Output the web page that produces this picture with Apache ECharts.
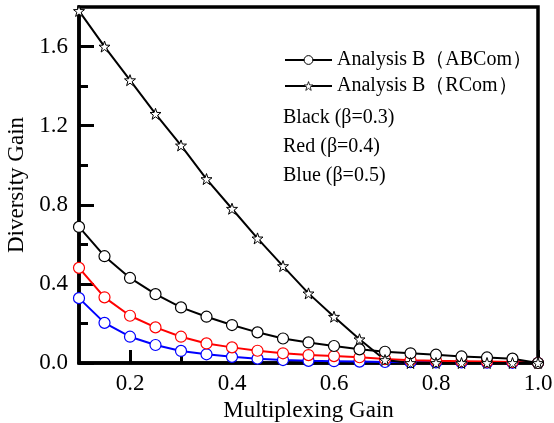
<!DOCTYPE html>
<html>
<head>
<meta charset="utf-8">
<script src="https://cdn.jsdelivr.net/npm/echarts@6/dist/echarts.min.js"></script>
<style>
  html, body { margin: 0; padding: 0; background: #fff; }
  #main { width: 554px; height: 423px; }
</style>
</head>
<body>
<div id="main"></div>
<script>
// multiplexing gain (x)
var xs = [0.1, 0.15, 0.2, 0.25, 0.3, 0.35, 0.4, 0.45, 0.5, 0.55, 0.6, 0.65, 0.7, 0.75, 0.8, 0.85, 0.9, 0.95, 1.0];
// Analysis B (RCom), beta = 0.3
var rcomBlack = [1.78, 1.60, 1.43, 1.26, 1.10, 0.93, 0.78, 0.63, 0.49, 0.352, 0.234, 0.12, 0.015, 0, 0, 0, 0, 0, 0];
// Analysis B (ABCom)
var abBlack = [0.688, 0.54, 0.43, 0.348, 0.281, 0.234, 0.192, 0.155, 0.124, 0.104, 0.086, 0.069, 0.057, 0.049, 0.042, 0.033, 0.028, 0.022, 0.0];
var abRed = [0.481, 0.332, 0.239, 0.18, 0.133, 0.099, 0.079, 0.062, 0.049, 0.040, 0.035, 0.029, 0.020, 0.014, 0.011, 0.009, 0.007, 0.005, 0.0];
var abBlue = [0.328, 0.203, 0.133, 0.091, 0.061, 0.044, 0.031, 0.022, 0.015, 0.011, 0.009, 0.007, 0.005, 0.004, 0.003, 0.003, 0.002, 0.001, 0.0];
// tick labels
var xLabels = [0.2, 0.4, 0.6, 0.8, 1.0];
var xMinor = [0.3, 0.5, 0.7, 0.9];
var yLabels = [0, 0.4, 0.8, 1.2, 1.6];
var yMinor = [0.2, 0.6, 1.0, 1.4];
var noteLines = ['Black (β=0.3)', 'Red (β=0.4)', 'Blue (β=0.5)'];

var serif = 'Liberation Serif';
var star = 'path://M50,0L61.8,33.8L97.6,34.5L69,56.2L79.4,90.5L50,70L20.6,90.5L31,56.2L2.4,34.5L38.2,33.8Z';

function pairs(ys) {
    return xs.map(function (x, i) { return [x, ys[i]]; });
}

function abSeries(name, color, ys) {
    return {
        name: name,
        type: 'line',
        data: pairs(ys),
        symbol: 'circle',
        symbolSize: 11,
        showAllSymbol: true,
        lineStyle: { color: color, width: 2 },
        itemStyle: { color: '#fff', borderColor: color, borderWidth: 1.2 }
    };
}

var chart = echarts.init(document.getElementById('main'));
var option = {
    backgroundColor: '#fff',
    animation: false,
    grid: {
        left: 79, right: 16, top: 7, bottom: 60,
        outerBoundsMode: 'none',
        show: true,
        borderColor: '#000',
        borderWidth: 3.5
    },
    legend: {
        data: [
            { name: 'Analysis B（ABCom）', itemStyle: { color: '#fff', borderColor: '#000', borderWidth: 1 } },
            { name: 'Analysis B（RCom）', itemStyle: { color: '#fff', borderColor: '#000', borderWidth: 0.8 } }
        ],
        orient: 'vertical',
        left: 279,
        top: 45,
        itemWidth: 47,
        itemHeight: 11,
        itemGap: 6,
        textStyle: { fontFamily: serif, fontSize: 20, color: '#000' }
    },
    graphic: noteLines.map(function (t, i) {
        return {
            type: 'text',
            left: 283,
            top: 108 + i * 28.8,
            style: { text: t, fontFamily: serif, fontSize: 20, fill: '#000' }
        };
    }),
    xAxis: [{
        type: 'value',
        min: 0.1,
        max: 1.0,
        name: 'Multiplexing Gain',
        nameLocation: 'middle',
        nameGap: 31,
        nameTextStyle: { fontFamily: serif, fontSize: 23, color: '#000' },
        axisLine: { lineStyle: { color: '#000', width: 3.5 } },
        axisTick: { inside: true, length: 13, customValues: xLabels, lineStyle: { color: '#000', width: 3 } },
        axisLabel: {
            customValues: xLabels,
            margin: 9,
            fontFamily: serif, fontSize: 23, color: '#000',
            formatter: function (v) { return v.toFixed(1); }
        },
        splitLine: { show: false }
    }, {
        type: 'value',
        min: 0.1,
        max: 1.0,
        position: 'bottom',
        axisLine: { show: false },
        axisTick: { inside: true, length: 9, customValues: xMinor, lineStyle: { color: '#000', width: 3 } },
        axisLabel: { show: false },
        splitLine: { show: false }
    }],
    yAxis: [{
        type: 'value',
        min: 0,
        max: 1.8,
        name: 'Diversity Gain',
        nameLocation: 'middle',
        nameGap: 43,
        nameTextStyle: { fontFamily: serif, fontSize: 23, color: '#000' },
        axisLine: { lineStyle: { color: '#000', width: 3.5 } },
        axisTick: { inside: true, length: 15, customValues: yLabels, lineStyle: { color: '#000', width: 3 } },
        axisLabel: {
            customValues: yLabels,
            margin: 11,
            fontFamily: serif, fontSize: 23, color: '#000',
            formatter: function (v) { return v.toFixed(1); }
        },
        splitLine: { show: false }
    }, {
        type: 'value',
        min: 0,
        max: 1.8,
        position: 'left',
        axisLine: { show: false },
        axisTick: { inside: true, length: 9, customValues: yMinor, lineStyle: { color: '#000', width: 3 } },
        axisLabel: { show: false },
        splitLine: { show: false }
    }],
    series: [
        abSeries('blue', '#0000ff', abBlue),
        abSeries('red', '#ff0000', abRed),
        abSeries('Analysis B（ABCom）', '#000', abBlack),
        {
            name: 'Analysis B（RCom）',
            type: 'line',
            data: pairs(rcomBlack),
            symbol: star,
            symbolSize: 11,
            showAllSymbol: true,
            lineStyle: { color: '#000', width: 2 },
            itemStyle: { color: '#fff', borderColor: '#000', borderWidth: 1 }
        }
    ]
};
chart.setOption(option);
</script>
</body>
</html>
